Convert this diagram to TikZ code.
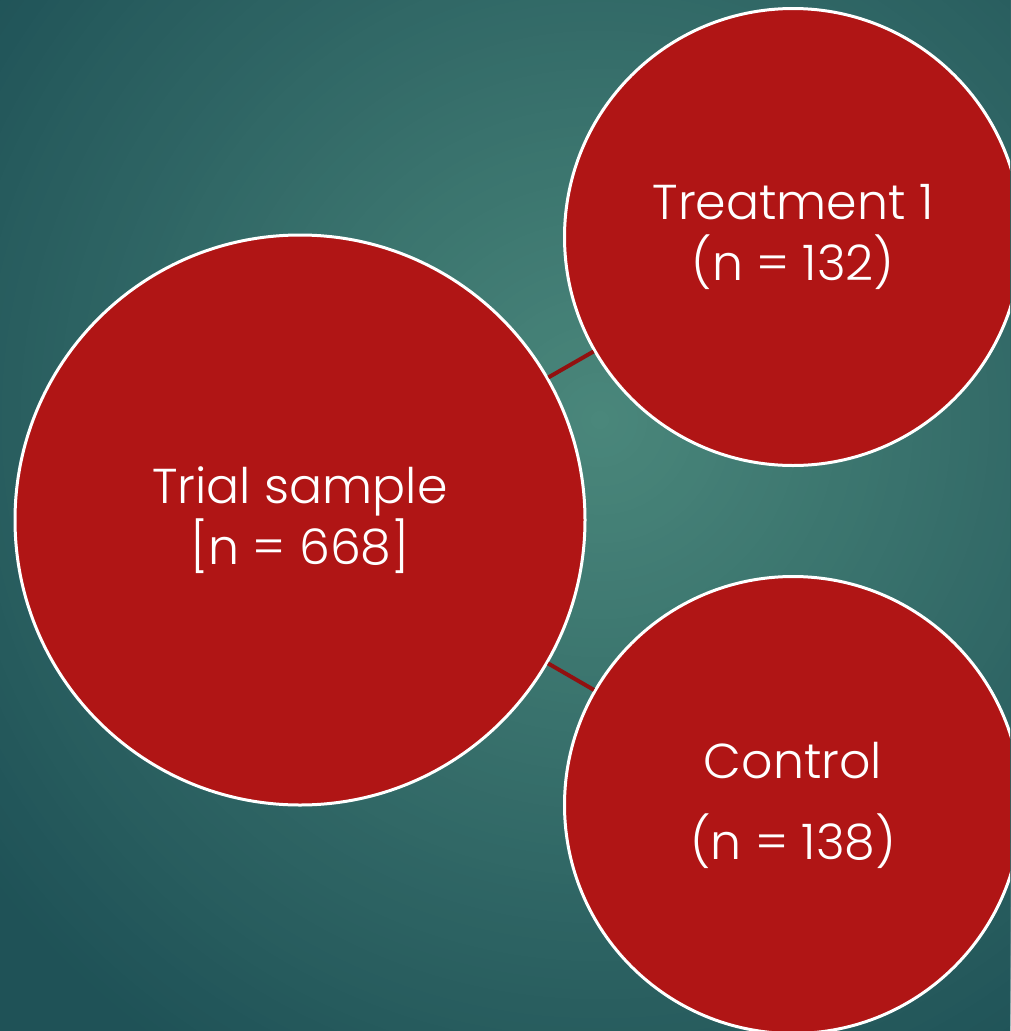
\documentclass[tikz,border=0pt]{standalone}
\usepackage{fontspec}
\IfFontExistsTF{Poppins Light}{\setmainfont{Poppins Light}}{\setmainfont{Poppins}}
\definecolor{bgin}{HTML}{4A877B}
\definecolor{bgout}{HTML}{1F5257}
\definecolor{cfill}{HTML}{B01515}
\definecolor{cline}{HTML}{921010}
\tikzset{
  bubble/.style={circle, fill=cfill, draw=white, line width=3pt, text=white, align=center, inner sep=0pt, font=\fontsize{49}{61}\selectfont},
  link/.style={draw=cline, line width=4pt}
}
\begin{document}
\begin{tikzpicture}[x=1pt,y=-1pt]
\useasboundingbox (0,0) rectangle (1010,1031);
\clip (0,0) rectangle (1010,1031);
\fill[bgout] (0,0) rectangle (1010,1031);
\foreach \i in {1,...,80}{
  \pgfmathtruncatemacro{\pct}{100*\i/80}
  \pgfmathsetmacro{\rad}{760*(1-(\i-1)/80)}
  \fill[bgin!\pct!bgout] (600,420) circle (\rad);
}
\node[bubble, minimum size=570pt] (trial) at (300,520) {Trial sample\\{}[n = 668]};
\node[bubble, minimum size=457pt] (treat) at (793,237) {Treatment 1\\(n = 132)};
\node[bubble, minimum size=457pt] (ctrl) at (793,805) {Control\\[20pt](n = 138)};
\draw[link] (trial) -- (treat);
\draw[link] (trial) -- (ctrl);
\end{tikzpicture}
\end{document}
